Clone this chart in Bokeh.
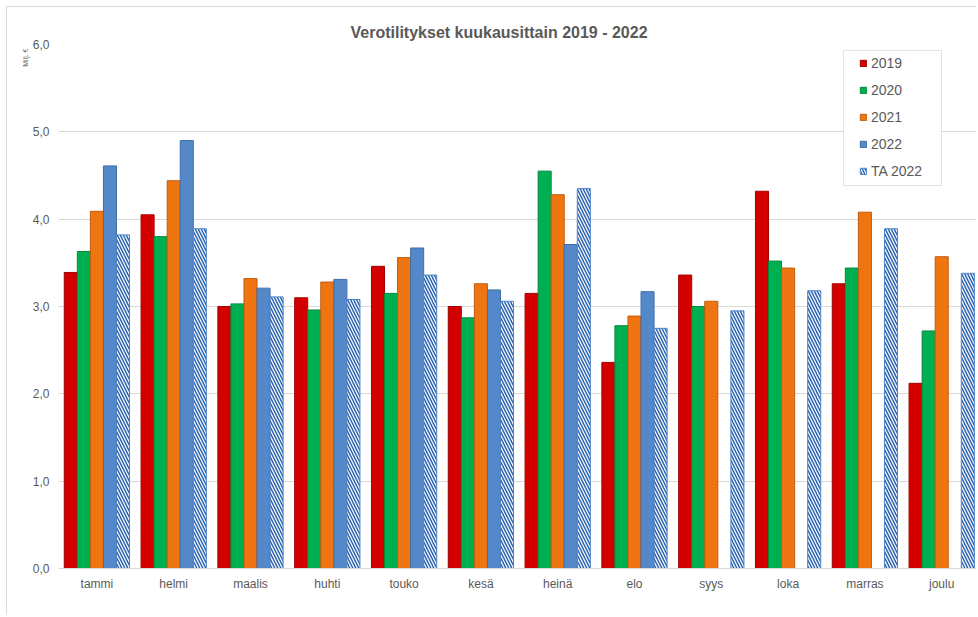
from bokeh.plotting import figure
from bokeh.models import Range1d, FixedTicker, Legend, LegendItem, Title, BoxAnnotation, ColumnDataSource
from bokeh.embed import file_html
from bokeh.resources import INLINE

months = ["tammi", "helmi", "maalis", "huhti", "touko", "kesä",
          "heinä", "elo", "syys", "loka", "marras", "joulu"]
v2019 = [3.39, 4.05, 3.00, 3.10, 3.46, 3.00, 3.15, 2.36, 3.36, 4.32, 3.26, 2.12]
v2020 = [3.63, 3.80, 3.03, 2.96, 3.15, 2.87, 4.55, 2.78, 3.00, 3.52, 3.44, 2.72]
v2021 = [4.09, 4.44, 3.32, 3.28, 3.56, 3.26, 4.28, 2.89, 3.06, 3.44, 4.08, 3.57]
v2022 = [4.61, 4.90, 3.21, 3.31, 3.67, 3.19, 3.71, 3.17]
ta2022 = [3.82, 3.89, 3.11, 3.08, 3.36, 3.06, 4.35, 2.75, 2.95, 3.18, 3.89, 3.38]
y_ticks = [0, 1, 2, 3, 4, 5, 6]
y_tick_labels = ["0,0", "1,0", "2,0", "3,0", "4,0", "5,0", "6,0"]
series_names = ["2019", "2020", "2021", "2022", "TA 2022"]
title_text = "Verotilitykset kuukausittain 2019 - 2022"
unit_text = "Milj. €"

FONT = "Liberation Sans"
TXT = "#595959"
GRID = "#d9d9d9"

W, H = 970, 609
ML, MT, MB = 51, 37, 48
px_x = 76.8
px_y = (H - MT - MB) / 6

p = figure(width=W, height=H, output_backend="svg", toolbar_location=None,
           x_range=Range1d(0, (W - ML) / px_x), y_range=Range1d(0, 6),
           min_border_left=ML, min_border_right=0, min_border_top=MT, min_border_bottom=MB,
           background_fill_color="white", border_fill_color="white",
           styles={"margin-left": "6px", "margin-top": "6px",
                   "border-left": "1px solid #d9d9d9", "border-top": "1px solid #d9d9d9"})
p.outline_line_color = None
p.xgrid.grid_line_color = None
p.ygrid.grid_line_color = GRID
p.ygrid.ticker = FixedTicker(ticks=y_ticks)

p.title.text = title_text
p.title.align = "left"
p.title.offset = 292
p.title.standoff = 7
p.title.text_font = FONT
p.title.text_font_size = "16px"
p.title.text_font_style = "bold"
p.title.text_color = TXT

centers = [i + 0.5 for i in range(len(months))]
p.xaxis.ticker = FixedTicker(ticks=centers)
p.xaxis.major_label_overrides = {c: m for c, m in zip(centers, months)}
p.yaxis.ticker = FixedTicker(ticks=y_ticks)
p.yaxis.major_label_overrides = {t: l for t, l in zip(y_ticks, y_tick_labels)}
for ax in (p.xaxis, p.yaxis):
    ax.major_tick_line_color = None
    ax.minor_tick_line_color = None
    ax.major_label_text_font = FONT
    ax.major_label_text_font_size = "12px"
    ax.major_label_text_color = TXT
p.xaxis.axis_line_color = GRID
p.yaxis.axis_line_color = None
p.yaxis.major_label_standoff = 3
p.xaxis.major_label_standoff = 2

p.add_layout(Title(text=unit_text, align="right", offset=4, text_font=FONT,
                   text_font_size="7px", text_font_style="normal", text_color=TXT, standoff=2), "left")

bw = 0.17
offs = [-2 * bw, -bw, 0, bw, 2 * bw]
series = [v2019, v2020, v2021, v2022, ta2022]
fills = ["#d40000", "#00b050", "#ef7512", "#5588c8", "white"]
lines = ["#a30000", "#008a3e", "#c25c0a", "#3f6ea8", "#4a84c8"]
renderers = []
for k, vals in enumerate(series):
    src = ColumnDataSource(dict(x=[centers[i] + offs[k] for i in range(len(vals))], top=vals))
    kw = {}
    if k == 4:
        kw = dict(hatch_pattern="\\", hatch_color="#2c64b0", hatch_scale=6, hatch_weight=1.5)
    r = p.vbar(x="x", top="top", bottom=0, width=bw, source=src,
               fill_color=fills[k], line_color=lines[k], line_width=1, **kw)
    renderers.append(r)

# legend frame
fx0, fy0 = 58, 568  # frame left / bottom in page pixels
box = BoxAnnotation(left=(843 - fx0) / px_x, right=(941 - fx0) / px_x,
                    top=(fy0 - 50) / px_y, bottom=(fy0 - 185) / px_y,
                    fill_color="white", fill_alpha=1, line_color="#a6a6a6", line_width=1)
p.add_layout(box)

legend = Legend(items=[LegendItem(label=n, renderers=[r]) for n, r in zip(series_names, renderers)],
                location=(801, 389), padding=0, spacing=11,
                glyph_width=8, glyph_height=8, label_height=8, label_standoff=4,
                label_text_font=FONT, label_text_font_size="14px", label_text_color=TXT,
                border_line_color=None, background_fill_alpha=0)
p.add_layout(legend)

open("out.html", "w").write(file_html(p, INLINE))
